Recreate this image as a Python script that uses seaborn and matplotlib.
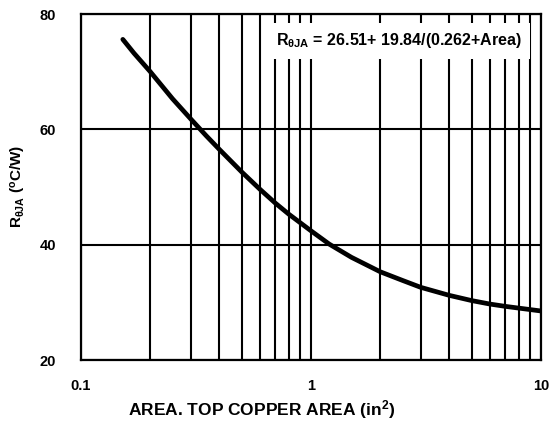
import matplotlib
matplotlib.use("Agg")
import matplotlib.pyplot as plt
import matplotlib.ticker as mticker
import seaborn as sns
import pandas as pd

# values
area = [0.152, 0.17, 0.2, 0.25, 0.3, 0.35, 0.4, 0.5, 0.6, 0.7, 0.8, 1.0, 1.2,
        1.5, 2.0, 2.5, 3.0, 4.0, 5.0, 6.0, 7.0, 8.0, 10.0]
r_theta = [75.6, 73.2, 70.0, 65.3, 61.8, 58.9, 56.5, 52.6, 49.6, 47.2, 45.3,
           42.4, 40.1, 37.8, 35.3, 33.8, 32.6, 31.2, 30.3, 29.7, 29.3, 29.0, 28.5]
x_ticks = [0.1, 1, 10]
x_ticklabels = ["0.1", "1", "10"]
y_ticks = [20, 40, 60, 80]

df = pd.DataFrame({"area": area, "r": r_theta})

sns.set_style("white")
plt.rcParams["font.family"] = ["Liberation Sans", "DejaVu Sans"]
plt.rcParams["font.weight"] = "bold"
plt.rcParams["text.color"] = "black"
plt.rcParams["xtick.color"] = "black"
plt.rcParams["ytick.color"] = "black"
plt.rcParams["mathtext.fontset"] = "custom"
plt.rcParams["mathtext.rm"] = "Liberation Sans:bold"
plt.rcParams["mathtext.it"] = "Liberation Sans:bold"
plt.rcParams["mathtext.bf"] = "Liberation Sans:bold"

fig = plt.figure(figsize=(5.49, 4.21), dpi=100)
ax = fig.add_axes([81 / 549, 1 - 360 / 421, 460 / 549, 346 / 421])

ax.set_xscale("log")
ax.set_xlim(0.1, 10)
ax.set_ylim(20, 80)

# grid: all decade subdivisions on x, 20-step on y
ax.xaxis.set_major_locator(mticker.FixedLocator(x_ticks))
ax.xaxis.set_major_formatter(mticker.FixedFormatter(x_ticklabels))
ax.xaxis.set_minor_locator(mticker.LogLocator(base=10, subs=range(2, 10)))
ax.xaxis.set_minor_formatter(mticker.NullFormatter())
ax.set_yticks(y_ticks)
ax.grid(True, which="both", axis="x", color="black", linewidth=1.5)
ax.grid(True, which="major", axis="y", color="black", linewidth=1.5)
ax.set_axisbelow(True)

sns.lineplot(data=df, x="area", y="r", ax=ax, color="black", linewidth=3.4)

for s in ax.spines.values():
    s.set_color("black")
    s.set_linewidth(1.6)

ax.tick_params(axis="both", which="both", length=0, labelsize=10.5,
               labelcolor="black")
ax.tick_params(axis="y", pad=18)
ax.tick_params(axis="x", pad=14)
for lab in ax.get_xticklabels() + ax.get_yticklabels():
    lab.set_fontweight("bold")

ax.set_xlabel("")
ax.set_ylabel("")
fig.text(262 / 549, 1 - 410 / 421, r"AREA. TOP COPPER AREA (in$^{2}$)",
         ha="center", va="center", fontsize=12.5, fontweight="bold",
         color="black")
fig.text(18 / 549, 1 - 186 / 421, r"R$_{\theta JA}$ ($^{o}$C/W)",
         ha="center", va="center", rotation=90, fontsize=11, fontweight="bold",
         color="black")

ax.text(0.959, 0.922, r"R$_{\theta JA}$ = 26.51+ 19.84/(0.262+Area)",
        transform=ax.transAxes, ha="right", va="center", fontsize=11.5,
        fontweight="bold", color="black", zorder=10,
        bbox=dict(facecolor="white", edgecolor="none", pad=6))

fig.savefig("out.png", dpi=100)
